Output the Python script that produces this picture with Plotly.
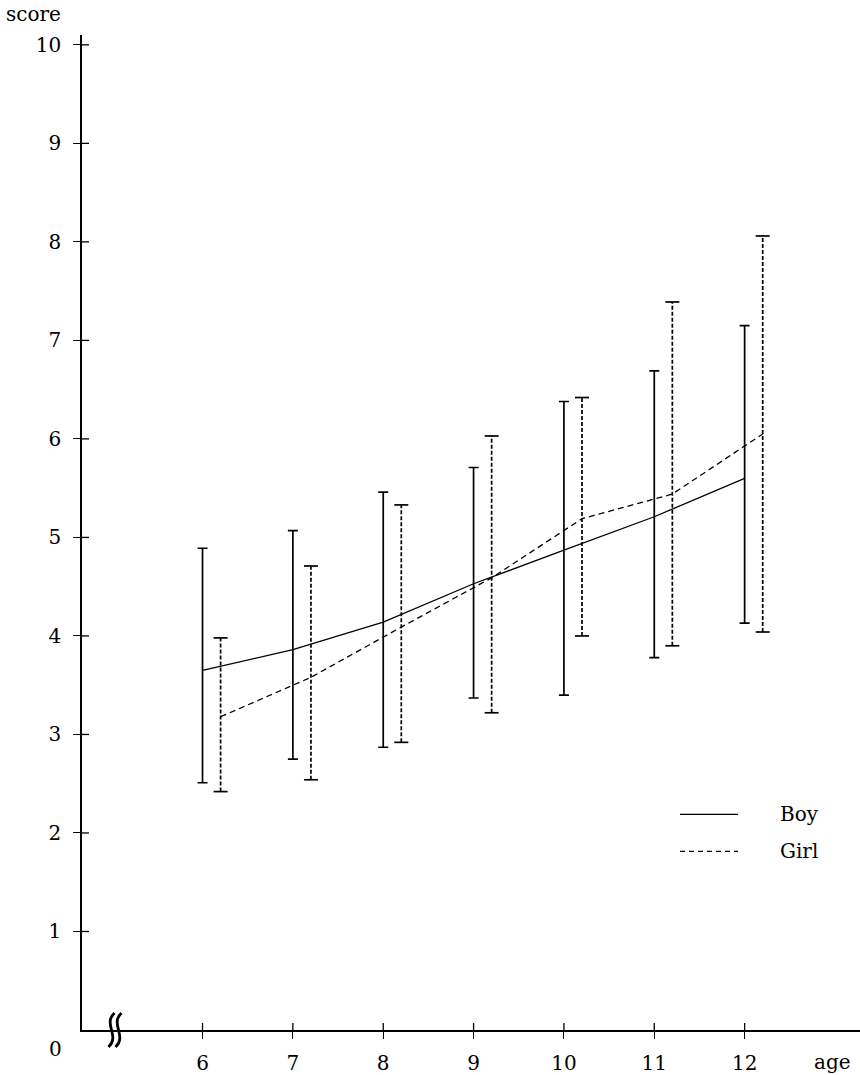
import plotly.graph_objects as go

# Mean scores with range (upper / lower ends) by age
ages = [6, 7, 8, 9, 10, 11, 12]
boy_mean = [3.65, 3.86, 4.14, 4.53, 4.87, 5.21, 5.60]
boy_upper = [4.89, 5.07, 5.46, 5.71, 6.38, 6.69, 7.15]
boy_lower = [2.51, 2.75, 2.87, 3.37, 3.40, 3.78, 4.13]
girl_mean = [3.18, 3.58, 4.09, 4.59, 5.19, 5.44, 6.05]
girl_upper = [3.98, 4.71, 5.33, 6.03, 6.42, 7.39, 8.06]
girl_lower = [2.42, 2.54, 2.92, 3.22, 4.00, 3.90, 4.04]
y_ticks = [1, 2, 3, 4, 5, 6, 7, 8, 9, 10]
x_ticks = [6, 7, 8, 9, 10, 11, 12]

W, H = 860, 1075
ML, MR, MT, MB = 82, 0, 35, 43
X_RANGE = [4.666, 13.277]
Y_RANGE = [0, 10.1]
GIRL_SHIFT = 0.2
FONT = "DejaVu Serif"
FS = 20

PW, PH = W - ML - MR, H - MT - MB
px_x = PW / (X_RANGE[1] - X_RANGE[0])
px_y = PH / (Y_RANGE[1] - Y_RANGE[0])

girl_x = [a + GIRL_SHIFT for a in ages]

fig = go.Figure()

# Boy: solid mean line with solid range bars
fig.add_trace(go.Scatter(
    x=ages, y=boy_mean, mode="lines",
    line=dict(color="black", width=1.3),
    error_y=dict(type="data", symmetric=False,
                 array=[u - m for u, m in zip(boy_upper, boy_mean)],
                 arrayminus=[m - l for m, l in zip(boy_mean, boy_lower)],
                 color="black", thickness=1.7, width=5),
    showlegend=False,
))

# Girl: dashed range bars (drawn as dashed segments) with end caps
bx, by = [], []
for x, lo, hi in zip(girl_x, girl_lower, girl_upper):
    bx += [x, x, None]
    by += [lo, hi, None]
fig.add_trace(go.Scatter(
    x=bx, y=by, mode="lines",
    line=dict(color="black", width=1.7, dash="4px,2px"),
    showlegend=False, hoverinfo="skip",
))
fig.add_trace(go.Scatter(
    x=girl_x + girl_x, y=girl_lower + girl_upper, mode="markers",
    marker=dict(symbol="line-ew", size=10, line=dict(color="black", width=1.7)),
    showlegend=False, hoverinfo="skip",
))
# Girl: dashed mean line
fig.add_trace(go.Scatter(
    x=girl_x, y=girl_mean, mode="lines",
    line=dict(color="black", width=1.3, dash="6px,4px"),
    showlegend=False,
))


def paper_x(px):
    return (px - ML) / PW


def paper_y(py):
    return (H - MB - py) / PH


shapes = []
TICK = 7
# inner halves of the cross-shaped ticks
for v in y_ticks:
    shapes.append(dict(type="line", xref="x", yref="y",
                       x0=X_RANGE[0], x1=X_RANGE[0] + TICK / px_x, y0=v, y1=v,
                       line=dict(color="black", width=1.3)))
for v in x_ticks:
    shapes.append(dict(type="line", xref="x", yref="y",
                       x0=v, x1=v, y0=0, y1=TICK / px_y,
                       line=dict(color="black", width=1.3)))

# axis break mark: two S-shaped strokes across the x axis
axis_py = H - MB
cx_px = ML + 33
for off in (-3.5, 3.5):
    pts = [(3, -17), (-9, -6), (9, 6), (-3, 17)]
    c = [(paper_x(cx_px + dx + off), paper_y(axis_py + dy)) for dx, dy in pts]
    path = "M {} {} C {} {}, {} {}, {} {}".format(
        c[0][0], c[0][1], c[1][0], c[1][1], c[2][0], c[2][1], c[3][0], c[3][1])
    shapes.append(dict(type="path", xref="paper", yref="paper", path=path,
                       line=dict(color="black", width=2.8)))

# legend samples
shapes.append(dict(type="line", xref="paper", yref="paper",
                   x0=paper_x(680), x1=paper_x(738), y0=paper_y(816), y1=paper_y(816),
                   line=dict(color="black", width=1.3)))
shapes.append(dict(type="line", xref="paper", yref="paper",
                   x0=paper_x(680), x1=paper_x(738), y0=paper_y(853), y1=paper_y(853),
                   line=dict(color="black", width=1.3, dash="5px,4px")))

annotations = [
    dict(text="Boy", x=paper_x(778), y=paper_y(816), xref="paper", yref="paper",
         xanchor="left", yanchor="middle", showarrow=False,
         font=dict(family=FONT, size=FS, color="black")),
    dict(text="Girl", x=paper_x(778), y=paper_y(853), xref="paper", yref="paper",
         xanchor="left", yanchor="middle", showarrow=False,
         font=dict(family=FONT, size=FS, color="black")),
    dict(text="score", x=paper_x(4), y=paper_y(14), xref="paper", yref="paper",
         xanchor="left", yanchor="middle", showarrow=False,
         font=dict(family=FONT, size=20, color="black")),
    dict(text="age", x=paper_x(812), y=paper_y(1064), xref="paper", yref="paper",
         xanchor="left", yanchor="middle", showarrow=False,
         font=dict(family=FONT, size=FS, color="black")),
    dict(text="0", x=paper_x(55), y=paper_y(1051), xref="paper", yref="paper",
         xanchor="center", yanchor="middle", showarrow=False,
         font=dict(family=FONT, size=FS, color="black")),
]

fig.update_layout(
    width=W, height=H,
    margin=dict(l=ML, r=MR, t=MT, b=MB),
    paper_bgcolor="white", plot_bgcolor="white",
    font=dict(family=FONT, size=FS, color="black"),
    shapes=shapes, annotations=annotations,
    xaxis=dict(range=X_RANGE, tickvals=x_ticks, ticktext=[str(v) for v in x_ticks],
               showgrid=False, zeroline=False, showline=True,
               linecolor="black", linewidth=1.5,
               ticks="outside", ticklen=TICK, tickwidth=1.3, tickcolor="black",
               ticklabelstandoff=7),
    yaxis=dict(range=Y_RANGE, tickvals=y_ticks, ticktext=[str(v) for v in y_ticks],
               showgrid=False, zeroline=False, showline=True,
               linecolor="black", linewidth=1.5,
               ticks="outside", ticklen=TICK, tickwidth=1.3, tickcolor="black",
               ticklabelstandoff=8),
)

fig.write_html("out.html")
